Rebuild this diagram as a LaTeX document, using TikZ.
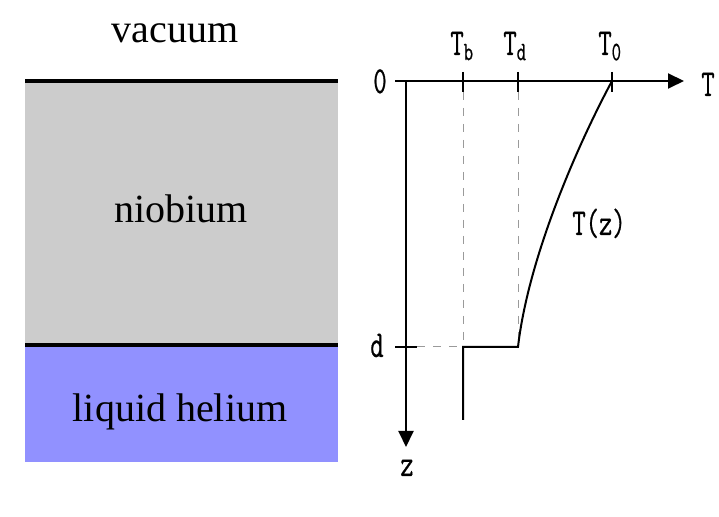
\documentclass[tikz,border=0pt]{standalone}
\usepackage{fontspec}
\setmainfont{Liberation Serif}
\newfontfamily\axisfont[FakeStretch=0.68,FakeBold=0.6]{Latin Modern Mono}
\usetikzlibrary{arrows.meta,positioning,calc}
\definecolor{nbgray}{HTML}{CCCCCC}
\definecolor{hebg}{HTML}{9191FF}
\definecolor{guidegray}{HTML}{9A9A9A}

\begin{document}
\begin{tikzpicture}[
  x=0.5pt, y=-0.5pt,
  layername/.style={font=\fontsize{20}{24}\selectfont, inner sep=0pt, anchor=base},
  axislabel/.style={font=\axisfont\fontsize{19}{22}\selectfont, inner sep=0pt, anchor=base},
  axisline/.style={line width=1pt, -{Triangle[length=8pt,width=7.5pt]}},
  tickmark/.style={line width=0.9pt},
  guide/.style={guidegray, line width=0.5pt, dash pattern=on 4pt off 4pt},
  boundary/.style={line width=2pt},
  profile/.style={line width=1pt}
]
\useasboundingbox (0,0) rectangle (719,517);

% ---- Layers ----
\fill[nbgray] (25,82) rectangle (338,345);
\fill[hebg] (25,345) rectangle (338,462);
\draw[boundary] (25,81) -- (338,81);
\draw[boundary] (25,345) -- (338,345);

\node[layername] (vac) at (175,43) {vacuum};
\node[layername] (nb) at (181,223) {niobium};
\node[layername] (he) at (180,422) {liquid helium};

% ---- Axes ----
\coordinate (O) at (406,81);
\coordinate (Oleft) at (395,81);
\coordinate (Tend) at (684,81);
\coordinate (zend) at (406,447);
\draw[axisline] (Oleft) -- (Tend);
\draw[axisline] (O) -- (zend);

\node[axislabel] (lzero) at (380,93) {0};
\node[axislabel] (lT) at (708,96) {T};
\node[axislabel] (lz) at (407,476) {z};

% Temperature ticks
\foreach \x/\lx/\n in {463/450/b, 518/503/d, 612/598/0}{
  \coordinate (t\n) at (\x,81);
  \draw[tickmark] ($(t\n)+(0,-9)$) -- ($(t\n)+(0,11)$);
  \node[axislabel, anchor=base west] (l\n) at (\lx,55) {T\textsubscript{\n}};
}

% Depth tick
\coordinate (dl) at (395,347);
\coordinate (dr) at (417,347);
\draw[tickmark] (dl) -- (dr);
\node[axislabel] (ld) at (377,357) {d};

% ---- Profile ----
\coordinate (kb) at (463,347);
\coordinate (kd) at (518,347);
\coordinate (bot) at (463,420);

\draw[guide] (463,92) -- (kb);
\draw[guide] (518,92) -- (kd);
\draw[guide] (dr) -- (kb);

\draw[profile] (bot) -- (kb) -- (kd) .. controls (528,260) and (575,150) .. (t0);
\node[axislabel, anchor=base west] (lTz) at (572,235) {T(z)};

\end{tikzpicture}
\end{document}
